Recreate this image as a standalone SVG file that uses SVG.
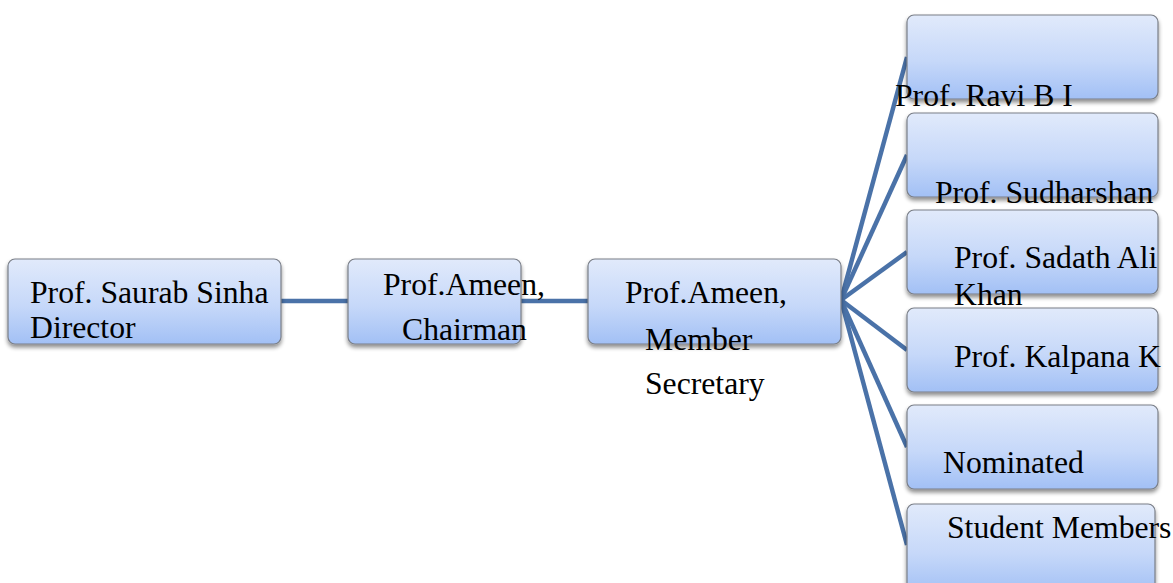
<svg xmlns="http://www.w3.org/2000/svg" width="1173" height="583" viewBox="0 0 1173 583">
<defs>
<linearGradient id="g" x1="0" y1="0" x2="0" y2="1">
<stop offset="0" stop-color="#e1eafb"/>
<stop offset="0.55" stop-color="#c6d8f9"/>
<stop offset="1" stop-color="#a2c0f5"/>
</linearGradient>
<filter id="sh" x="-10%" y="-10%" width="120%" height="130%">
<feGaussianBlur in="SourceAlpha" stdDeviation="2"/>
<feOffset dx="0" dy="3" result="b"/>
<feComponentTransfer><feFuncA type="linear" slope="0.45"/></feComponentTransfer>
<feMerge><feMergeNode/><feMergeNode in="SourceGraphic"/></feMerge>
</filter>
</defs>
<style>
.box{fill:url(#g);stroke:#7a7f88;stroke-width:1.2;filter:url(#sh)}
.t{font-family:"Liberation Serif","Times New Roman",serif;font-size:31.7px;fill:#000}
.c{stroke:#4a72a8;stroke-width:4.5;fill:none;stroke-linecap:butt}
</style>
<g id="connectors">
<line class="c" x1="281" y1="301" x2="348" y2="301"/>
<line class="c" x1="521" y1="301" x2="588" y2="301"/>
<line class="c" x1="841" y1="300" x2="907" y2="57"/>
<line class="c" x1="841" y1="300" x2="907" y2="155"/>
<line class="c" x1="841" y1="300" x2="907" y2="252"/>
<line class="c" x1="841" y1="300" x2="907" y2="350"/>
<line class="c" x1="841" y1="300" x2="907" y2="447"/>
<line class="c" x1="841" y1="300" x2="907" y2="545"/>
</g>
<g id="director">
<rect class="box" x="8" y="259" width="273" height="85" rx="7"/>
<text class="t" x="30" y="303">Prof. Saurab Sinha</text>
<text class="t" x="30" y="338">Director</text>
</g>
<g id="chairman">
<rect class="box" x="348" y="259" width="173" height="85" rx="7"/>
<text class="t" x="383" y="295">Prof.Ameen,</text>
<text class="t" x="402" y="340">Chairman</text>
</g>
<g id="secretary">
<rect class="box" x="588" y="259" width="253" height="85" rx="7"/>
<text class="t" x="625" y="303">Prof.Ameen,</text>
<text class="t" x="645" y="350">Member</text>
<text class="t" x="645" y="394">Secretary</text>
</g>
<g id="ravi">
<rect class="box" x="907" y="15" width="251" height="84" rx="7"/>
<text class="t" x="895" y="106">Prof. Ravi B I</text>
</g>
<g id="sudharshan">
<rect class="box" x="907" y="113" width="251" height="84" rx="7"/>
<text class="t" x="935" y="203">Prof. Sudharshan</text>
</g>
<g id="sadath">
<rect class="box" x="907" y="210" width="251" height="84" rx="7"/>
<text class="t" x="954" y="268">Prof. Sadath Ali</text>
<text class="t" x="954" y="305">Khan</text>
</g>
<g id="kalpana">
<rect class="box" x="907" y="308" width="251" height="84" rx="7"/>
<text class="t" x="954" y="367">Prof. Kalpana K</text>
</g>
<g id="nominated">
<rect class="box" x="907" y="405" width="251" height="84" rx="7"/>
<text class="t" x="943" y="473">Nominated</text>
</g>
<g id="students">
<rect class="box" x="907" y="504" width="248" height="90" rx="7"/>
<text class="t" x="947" y="538">Student Members</text>
</g>
</svg>
